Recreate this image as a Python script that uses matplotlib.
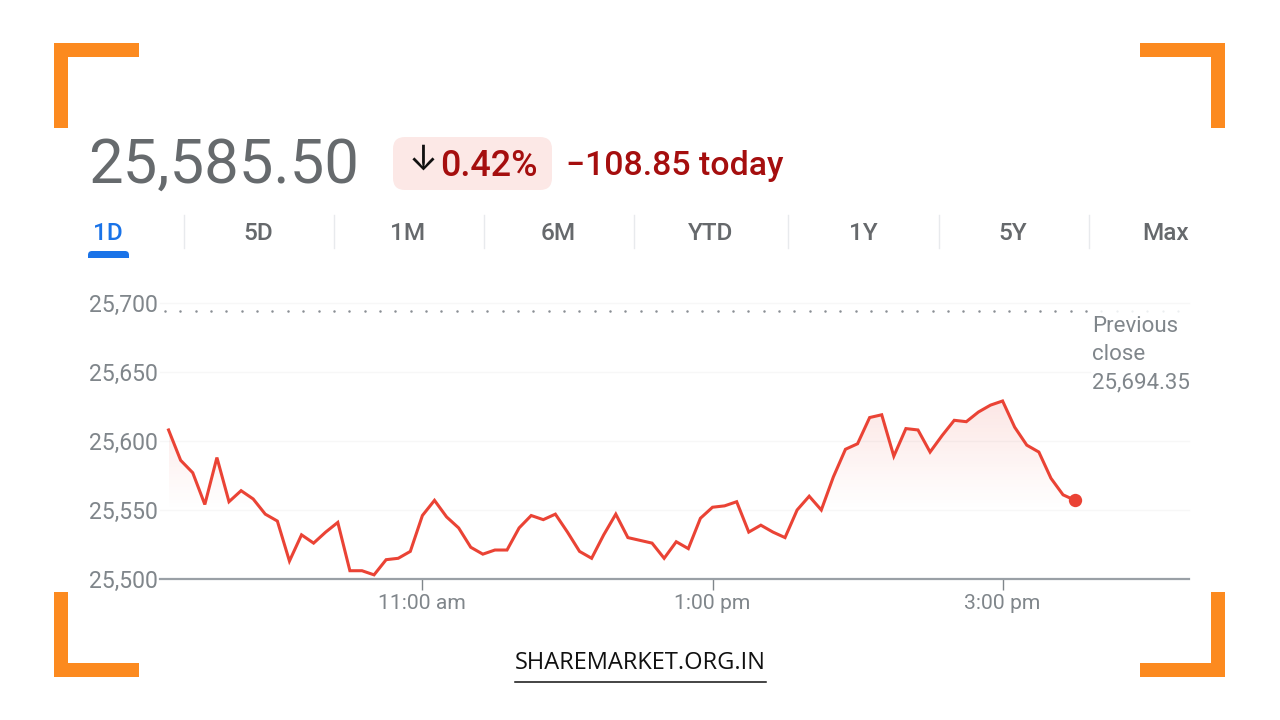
import matplotlib
matplotlib.use("Agg")
import numpy as np
import matplotlib.pyplot as plt
from matplotlib.patches import FancyBboxPatch, Rectangle, Polygon
from matplotlib.colors import LinearSegmentedColormap

plt.rcParams['font.family'] = ['Roboto', 'DejaVu Sans']

# ---- data ----
start_minute = 9 * 60 + 15
step_minutes = 5
prices = [25608, 25586, 25577, 25554, 25588, 25556, 25564, 25558, 25547, 25542,
          25513, 25532, 25526, 25534, 25541, 25506, 25506, 25503, 25514, 25515,
          25520, 25546, 25557, 25545, 25537, 25523, 25518, 25521, 25521, 25537,
          25546, 25543, 25547, 25534, 25520, 25515, 25532, 25547, 25530, 25528,
          25526, 25515, 25527, 25522, 25544, 25552, 25553, 25556, 25534, 25539,
          25534, 25530, 25550, 25560, 25550, 25574, 25594, 25598, 25617, 25619,
          25589, 25609, 25608, 25592, 25604, 25615, 25614, 25621, 25626, 25629,
          25610, 25597, 25592, 25573, 25561, 25557]
previous_close = 25694.35
y_ticks = [25500, 25550, 25600, 25650, 25700]
x_ticks = [660, 780, 900]
x_labels = ['11:00 am', '1:00 pm', '3:00 pm']
tabs = ['1D', '5D', '1M', '6M', 'YTD', '1Y', '5Y', 'Max']
tab_centres = [108, 258, 408, 558, 711, 863, 1013, 1166]
tab_dividers = [184, 334, 484, 634, 788, 939, 1089]

W, H = 1280, 720
fig = plt.figure(figsize=(W / 100, H / 100), dpi=100, facecolor='white')

# pixel-space overlay for the page furniture
bg = fig.add_axes([0, 0, 1, 1], zorder=0)
bg.set_xlim(0, W); bg.set_ylim(H, 0); bg.axis('off')

ORANGE = '#fc8a1f'
T = 14
L = 85
for (x0, y0, sx, sy) in [(54, 43, 1, 1), (1225, 43, -1, 1), (54, 677, 1, -1), (1225, 677, -1, -1)]:
    bg.add_patch(Rectangle((x0, y0), sx * L, sy * T, fc=ORANGE, ec='none'))
    bg.add_patch(Rectangle((x0, y0), sx * T, sy * L, fc=ORANGE, ec='none'))

bg.text(88, 166, '25,585.50', fontsize=44.4, color='#666a6d', va='center', ha='left')
bg.add_patch(FancyBboxPatch((393, 137), 159, 53, boxstyle='round,pad=0,rounding_size=12',
                            fc='#fce8e6', ec='none'))
bg.text(423, 161, '↓', fontsize=25, color='#111111', va='center', ha='center', family='Inter')
bg.text(440, 166, '0.42%', fontsize=25.8, color='#a50e0e', va='center', ha='left', fontweight='medium')
bg.text(566, 166, '−108.85 today', fontsize=24.4, color='#a50e0e', va='center', ha='left', fontweight='medium')

for name, cx in zip(tabs, tab_centres):
    bg.text(cx, 233.5, name, fontsize=17.6, va='center', ha='center', fontweight='medium',
            color='#1a73e8' if name == '1D' else '#66696c')
for dx in tab_dividers:
    bg.plot([dx, dx], [215, 248], color='#e8eaed', lw=1)
bg.add_patch(FancyBboxPatch((88, 251), 41, 12, boxstyle='round,pad=0,rounding_size=4',
                            fc='#1a73e8', ec='none'))
bg.add_patch(Rectangle((84, 258), 50, 7, fc='white', ec='none'))

bg.text(1092, 326.5, 'Previous', fontsize=16, color='#80868b', va='center', ha='left')
bg.text(1092, 354.5, 'close', fontsize=16, color='#80868b', va='center', ha='left')
bg.text(1092, 382.5, '25,694.35', fontsize=16, color='#80868b', va='center', ha='left')

bg.text(640.5, 663, 'SHAREMARKET.ORG.IN', fontsize=17, color='#111111', va='center', ha='center',
        family='Open Sans')
bg.plot([515, 766], [682, 682], color='#111111', lw=1.1)

# chart axes, placed so that scales match the picture
left, right, top, bottom = 160, 1189, 303, 579
ax = fig.add_axes([left / W, 1 - bottom / H, (right - left) / W, (bottom - top) / H], zorder=1)
ax.patch.set_alpha(0)
px_per_min = 2.4175
x_lim = (660 - (422.4 - left) / px_per_min, 660 + (right - 422.4) / px_per_min)

minutes = start_minute + step_minutes * np.arange(len(prices))
values = np.array(prices, dtype=float)

# gradient fill under the line, fading out at the 25,550 level
cmap = LinearSegmentedColormap.from_list('fade', [(0.918, 0.263, 0.208, 0.0), (0.918, 0.263, 0.208, 0.15)])
grad = np.linspace(0, 1, 256).reshape(-1, 1)
im = ax.imshow(grad, extent=[minutes[0], minutes[-1], 25550, 25640], origin='lower',
               aspect='auto', cmap=cmap, vmin=0, vmax=1, zorder=1)
poly = Polygon(np.vstack([np.column_stack([minutes, values]),
                          [[minutes[-1], 25500], [minutes[0], 25500]]]),
               transform=ax.transData, fc='none', ec='none')
ax.add_patch(poly)
im.set_clip_path(poly)
ax.set_xlim(*x_lim)
ax.set_ylim(25500, 25700)
ax.set_aspect('auto')

for yv in y_ticks[1:]:
    xmax = (1090 - left) / (right - left) if yv == 25650 else 1
    ax.axhline(yv, xmax=xmax, color='#f7f7f7', lw=1, zorder=0, clip_on=False)

# previous close dots: strong over the plotted span, faint past it
dot_x = np.arange(165, right, 15.35)
dot_min = 660 + (dot_x - 422.4) / px_per_min
strong = dot_x < 1094
ax.scatter(dot_min[strong], np.full(strong.sum(), previous_close), s=3.2, color='#8a8f94', lw=0, zorder=2)
ax.scatter(dot_min[~strong], np.full((~strong).sum(), previous_close), s=2.6, color='#eceef0', lw=0, zorder=2)

ax.plot(minutes, values, color='#ea4335', lw=2.2, solid_joinstyle='miter', zorder=3)
ax.plot(minutes[-1], values[-1], 'o', color='#ea4335', ms=9.6, mew=0, zorder=4, clip_on=False)

for s in ['top', 'right', 'left']:
    ax.spines[s].set_visible(False)
ax.spines['bottom'].set_color('#9aa0a6')
ax.spines['bottom'].set_linewidth(1.6)
ax.set_xticks(x_ticks, x_labels)
ax.set_yticks(y_ticks, [f'{v:,}' for v in y_ticks])
ax.tick_params(axis='x', length=8, width=1, color='#80868b', labelcolor='#80868b', labelsize=15.2, pad=3)
ax.tick_params(axis='y', length=0, labelcolor='#80868b', labelsize=16.6, pad=1.5)
for lab in ax.get_yticklabels():
    lab.set_verticalalignment('center_baseline')

fig.savefig('out.png', dpi=100)
